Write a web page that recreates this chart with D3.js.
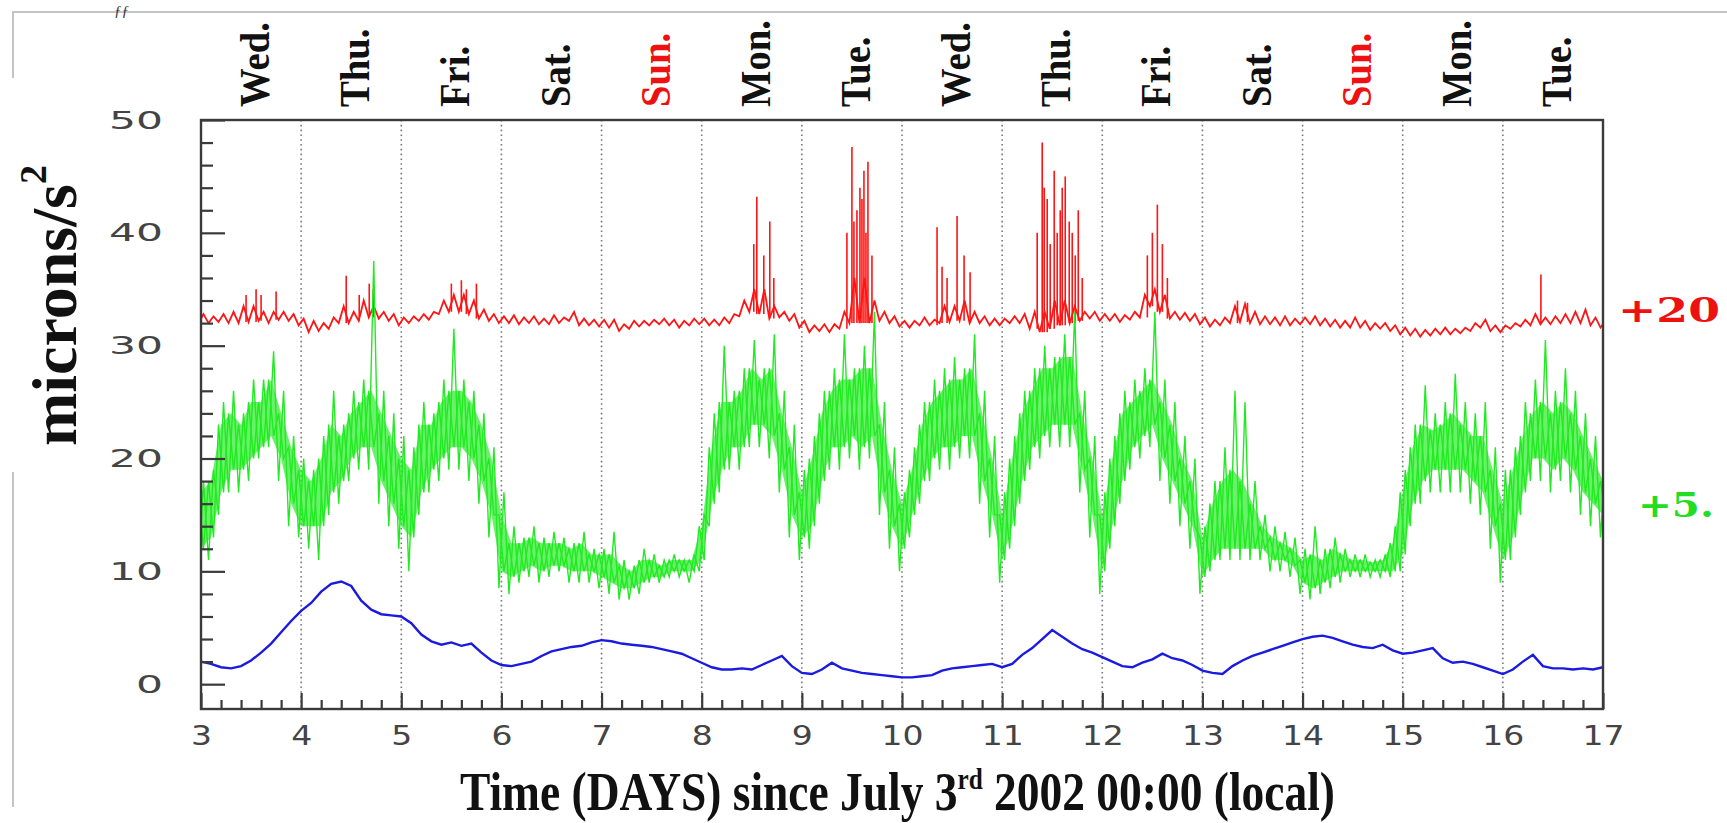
<!DOCTYPE html>
<html><head><meta charset="utf-8">
<script src="https://cdn.jsdelivr.net/npm/d3@7"></script>
<style>body{margin:0;background:#fff;} svg{display:block}</style>
</head><body><svg id="c" width="1727" height="823"></svg>
<script>
// ---------- data ----------
const dayNames = ["Wed.","Thu.","Fri.","Sat.","Sun.","Mon.","Tue.","Wed.","Thu.","Fri.","Sat.","Sun.","Mon.","Tue."];
const xTickLabels = ["3","4","5","6","7","8","9","10","11","12","13","14","15","16","17"];
const yTickValues = [0,10,20,30,40,50];
const offsetLabels = ["+20","+5."];
const binStart = 3, binStep = 0.1;   // samples every 0.1 day from day 3 to day 17

const blueVals = [
 2.0,1.8,1.5,1.4,1.6,2.1,2.8,3.6,4.6,5.6,
 6.5,7.2,8.2,8.9,9.1,8.7,7.4,6.6,6.2,6.1,
 6.0,5.4,4.4,3.8,3.5,3.7,3.4,3.6,2.8,2.1,
 1.7,1.6,1.8,2.0,2.5,2.9,3.1,3.3,3.4,3.7,
 3.9,3.8,3.6,3.5,3.4,3.3,3.1,2.9,2.7,2.3,
 1.9,1.5,1.3,1.3,1.4,1.3,1.7,2.1,2.5,1.6,
 1.0,0.9,1.3,1.9,1.4,1.2,1.0,0.9,0.8,0.7,
 0.6,0.6,0.7,0.8,1.2,1.4,1.5,1.6,1.7,1.8,
 1.5,1.8,2.6,3.2,4.0,4.8,4.2,3.6,3.1,2.8,
 2.4,2.0,1.6,1.5,1.9,2.2,2.7,2.3,2.1,1.7,
 1.2,1.0,0.9,1.6,2.1,2.5,2.8,3.1,3.4,3.7,
 4.0,4.2,4.3,4.1,3.8,3.5,3.3,3.2,3.5,3.0,
 2.7,2.8,3.0,3.2,2.3,1.9,2.0,1.8,1.5,1.2,
 0.9,1.3,2.0,2.6,1.6,1.4,1.4,1.3,1.4,1.3,
 1.5];

// green (+5 offset): extreme low / high of the noisy trace in each bin
const greenLo = [
 10,11,15,17,17,18,20,21,18,14,
 13,12,11,15,16,18,19,19,16,14,
 12,10,15,17,18,19,19,18,16,13,
 8.5,8,9,9.5,9,9.5,10,9,9,9,
 8.5,8,7.5,7.5,8,9,9,9.5,9.5,9,
 10,14,17,19,19,21,21,20,17,13,
 11,12,16,19,19,20,19,20,15,12,
 10,13,16,18,19,19,20,20,16,13,
 9,12,16,19,20,21,21,21,17,13,
 8,12,16,19,20,21,18,16,14,12,
 8,10,11,11,11,11,11,10,10,9.5,
 8,7.5,8,8.5,9,9.5,9.5,9.5,9.5,9.5,
 10,14,16,17,17,17,17,16,15,12,
 9,11,15,18,18,17,18,17,15,14,
 13];
const greenHi = [
 18,19,25,26,24,27,27,29.5,26,22,
 20,19,22,26,23,26,27,37.5,26,24,
 22,21,25,24,27,31.5,27,26,24,21,
 17,14,13,14,13,13.5,13,12.5,13.5,12,
 12,13.5,11,10.5,12,11.5,11,11.5,11,11.5,
 15,24,30,26,28,30.5,28,31,26,23,
 19,22,26,28,31,28,30,33,25,21,
 17,21,25,27,28,29,28,31,26,22,
 17,22,26,28,30,29,31,33,26,22,
 17,22,26,27,28,33,27,25,22,20,
 14,18,21,26,25,18,15,14,13.5,13,
 12,14,12,13,12,11.5,11.5,11,11.5,14,
 19,23,26.5,24,25,27.5,25,24,25,21,
 19,21,25,27,30.5,26,28,26,24,22,
 20];
// green: dense core of the trace in each bin
const greenCoreLo = [
 12,13,17,19,19,20,21,22,20,16,
 14,14,14,17,18,20,21,21,18,16,
 14,13,17,19,20,21,21,20,18,15,
 10,9.5,10,10.5,10,10.5,10.5,10,10,10,
 9.5,9,8.5,8.5,9,9.5,9.5,10,10,10,
 11,16,19,21,21,23,23,22,19,15,
 13,14,18,21,21,22,21,22,17,14,
 12,15,18,20,21,21,22,22,18,15,
 11,14,18,21,22,23,23,23,19,15,
 10,14,18,21,22,23,20,18,16,14,
 9.5,11,12,12,12,12,12,11,11,10.5,
 9,8.5,9,9.5,10,10,10,10,10,10,
 11.5,16,18,19,19,19,19,18,17,14,
 11,13,17,20,20,19,20,19,17,16,
 15];
const greenCoreHi = [
 17,18,23,24,23,25,25,27,24,21,
 19,18,20,23,22,24,25,26,24,22,
 20,19,23,23,25,26,26,25,23,20,
 15,12.5,12.5,13,12.5,12.5,12.5,12,12.5,11.5,
 11.5,11.5,10.5,10,11,11,10.5,11,11,11,
 14,21,25,25,26,28,27,28,24,21,
 17,20,24,26,27,27,28,28,23,19,
 16,19,23,25,26,27,27,28,24,20,
 15,20,24,26,28,28,29,29,24,20,
 15,20,24,25,26,27,25,23,20,18,
 13,16,18,19,18,16,14,13,12.5,12,
 11,11.5,11,12,11.5,11,11,10.8,11,12.5,
 17,21,23,22.5,23,24,23,22,22,19,
 16,19,22,24,25,24,25,24,22,20,
 18];

// red (+20 offset): noisy band low / high in each bin, plus isolated spikes
const redLo = [
 32,32,32.1,32,32,32.1,32.2,32,32.3,32.2,
 31.8,31.2,31.3,31.5,32,32,32.2,32.5,32.4,32.2,
 31.8,32,32.2,32.3,32.8,33,33,32.8,32.4,32.2,
 32,32,31.9,32,31.9,31.9,32,32.2,31.8,31.8,
 31.7,31.6,31.3,31.5,31.7,31.8,31.9,31.8,31.6,31.8,
 31.9,31.8,31.8,32,32.6,33,32.8,32.4,32.5,32.2,
 31.6,31.2,31.3,31.2,31.5,32,32,32,32.2,32,
 31.7,31.6,31.8,31.8,32,32.1,32.2,32,32,31.8,
 31.8,32,32,31.5,31.2,31.5,31.8,32,32.2,32.4,
 32.2,32.2,32.1,32.3,32.5,33.5,33,32.4,32.3,32.2,
 31.9,31.7,31.8,32,32.1,32,31.9,31.9,31.8,31.8,
 31.9,31.9,31.8,31.7,31.6,31.6,31.6,31.4,31.5,31.3,
 31,30.9,30.8,30.9,31,31,31.1,31.3,31.6,31.3,
 31.2,31.5,31.7,31.8,31.9,31.9,32,32,32,31.8,
 31.6];
const redHi = [
 32.8,32.6,32.8,33,33.5,33.5,33,33,33,32.8,
 32.4,32.2,32,32.5,33.5,33,34,33.5,33,32.8,
 32.5,32.6,32.8,33,34,34.5,34.5,34,33.2,32.8,
 32.6,32.7,32.5,32.6,32.4,32.7,32.5,33,32.4,32.3,
 32.3,32.3,31.9,32.2,32.2,32.3,32.4,32.3,32.2,32.4,
 32.4,32.3,32.5,32.8,34,35,35,33.5,33,32.8,
 32.2,31.8,31.9,31.9,33,36,36,34,33,32.6,
 32.2,32.2,32.5,32.3,33.5,33.5,34,33,32.6,32.4,
 32.4,32.6,32.8,33,33,34,34,33.5,33,33,
 32.8,32.8,32.7,33,34.5,35,34.5,33,32.9,32.8,
 32.5,32.3,32.5,33.5,33.7,33,32.6,32.5,32.6,32.4,
 32.5,32.6,32.4,32.3,32.2,32.5,32.2,32,32,31.8,
 31.6,31.5,31.4,31.5,31.6,31.5,31.6,32,32.3,31.8,
 31.8,32,32.3,32.8,32.5,32.6,32.8,33,33.2,32.5,
 32.2];

const redSpikeDays = [3.45,3.55,3.6,3.75, 4.45,4.58,4.68,4.72, 5.5,5.6,5.65,5.75,
 8.52,8.55,8.62,8.68,8.72, 9.45,9.5,9.52,9.55,9.58,9.6,9.62,9.64,9.66,9.7,
 10.35,10.4,10.45,10.55,10.62,10.68,
 11.35,11.4,11.42,11.45,11.48,11.52,11.55,11.58,11.6,11.63,11.67,11.7,11.73,11.76,11.8,
 12.45,12.5,12.55,12.6,12.65, 13.35,13.45, 16.38];
const redSpikeTops = [34.5,35,34.5,34.8, 36.2,34.5,35.5,35, 35.5,35.8,35,35.5,
 39,43.2,38,41,36, 40,47.6,41,42,44,43,45.5,40,46.3,38,
 40.5,37,36,41.5,38,36.5,
 40,48,44,43,39,45.5,40,42,44,45,41,40,38,42,36,
 38,40,42.5,39,36, 34,33.8, 36.3];

// ---------- layout ----------
const svg = d3.select("#c");
const x = d3.scaleLinear().domain([3,17]).range([201,1603]);
const y = d3.scaleLinear().domain([-2.2,50]).range([709,120]);
const serif = "'Liberation Serif','Times New Roman',serif";
const sans = "'DejaVu Sans',Verdana,sans-serif";

svg.append("rect").attr("width",1727).attr("height",823).attr("fill","#fff");

// outer faint frame
const frame = svg.append("g").attr("stroke","#c4c4c4").attr("stroke-width",2).attr("fill","none");
frame.append("path").attr("d","M13,78V12H1727");
frame.append("path").attr("d","M13,472V807");
svg.append("text").attr("x",114).attr("y",16).attr("font-family",serif).attr("font-style","italic")
  .attr("font-size",15).attr("fill","#333").text("ƒƒ");

// clip
svg.append("clipPath").attr("id","clip").append("rect")
  .attr("x",x(3)).attr("y",y(50)).attr("width",x(17)-x(3)).attr("height",y(-2.2)-y(50));

// day grid dotted lines
const gridDays = xTickLabels.map(Number).filter(d=>d>3 && d<17);
svg.append("g").selectAll("line").data(gridDays).join("line")
  .attr("x1",d=>x(d)).attr("x2",d=>x(d)).attr("y1",y(50)).attr("y2",y(-2.2))
  .attr("stroke","#7a7a7a").attr("stroke-width",1.6).attr("stroke-dasharray","1.6,3.2");

// series
const tOf = i => binStart + i*binStep;
const plot = svg.append("g").attr("clip-path","url(#clip)");
const line = d3.line().x(d=>x(d[0])).y(d=>y(d[1]));
const band = (lo,hi) => d3.area().x((d,i)=>x(tOf(i))).y0((d,i)=>y(lo[i])).y1((d,i)=>y(hi[i]))(lo);
function zig(lo, hi){
  const pts = [];
  lo.forEach((v,i)=>{ pts.push([tOf(i)-binStep/4, v]); pts.push([tOf(i)+binStep/4, hi[i]]); });
  return pts;
}

const RED = "#ff1414", GREEN = "#22ea22", BLUE = "#1a1ae0";
// red noisy trace + spikes
plot.append("path").attr("d", line(zig(redLo, redHi))).attr("fill","none")
  .attr("stroke",RED).attr("stroke-width",1.8);
plot.append("g").selectAll("path").data(redSpikeDays).join("path")
  .attr("d",(d,i)=>{ const k = Math.round((d-binStart)/binStep);
     return line([[d, redLo[k]],[d, redSpikeTops[i]]]); })
  .attr("fill","none").attr("stroke",RED).attr("stroke-width",1.6);
// green: dense core, extremes zigzag, core zigzag
plot.append("path").attr("d", band(greenCoreLo, greenCoreHi)).attr("fill",GREEN).attr("fill-opacity",0.68);
plot.append("path").attr("d", line(zig(greenLo, greenHi))).attr("fill","none")
  .attr("stroke",GREEN).attr("stroke-width",1.4);
plot.append("path").attr("d", line(zig(greenCoreHi, greenCoreLo))).attr("fill","none")
  .attr("stroke",GREEN).attr("stroke-width",1.4);
// blue
plot.append("path").attr("d", line(blueVals.map((v,i)=>[tOf(i), v]))).attr("fill","none")
  .attr("stroke",BLUE).attr("stroke-width",2.4);

// axes
const axCol = "#3a3a3a";
const xMajor = xTickLabels.map(Number);
const xMinor = d3.range(70).map(i=>3+i*0.2).filter(v=>v<17 && Math.abs(v-Math.round(v))>1e-6);
const yMinor = d3.range(26).map(i=>i*2).filter(v=>v%10!==0);

const gx = svg.append("g").attr("transform",`translate(0,${y(-2.2)})`)
  .call(d3.axisBottom(x).tickValues(xMajor).tickSizeInner(-16).tickSizeOuter(0).tickPadding(18).tickFormat((d,i)=>xTickLabels[i]));
const gx2 = svg.append("g").attr("transform",`translate(0,${y(-2.2)})`)
  .call(d3.axisBottom(x).tickValues(xMinor).tickSizeInner(-9).tickSizeOuter(0).tickFormat(""));
const gy = svg.append("g").attr("transform",`translate(${x(3)},0)`)
  .call(d3.axisLeft(y).tickValues(yTickValues).tickSizeInner(-24).tickSizeOuter(0).tickPadding(38));
const gy2 = svg.append("g").attr("transform",`translate(${x(3)},0)`)
  .call(d3.axisLeft(y).tickValues(yMinor).tickSizeInner(-12).tickSizeOuter(0).tickFormat(""));
[gx,gx2,gy,gy2].forEach(g=>{ g.select(".domain").remove();
  g.selectAll("line").attr("stroke",axCol).attr("stroke-width",2.2); });
gx.selectAll("text").attr("font-family",sans).attr("font-size",26).attr("fill","#444")
  .each(function(){ d3.select(this).attr("textLength", this.textContent.length*21).attr("lengthAdjust","spacingAndGlyphs"); });
gy.selectAll("text").attr("font-family",sans).attr("font-size",25).attr("fill","#444")
  .each(function(){ d3.select(this).attr("textLength", this.textContent.length*27).attr("lengthAdjust","spacingAndGlyphs"); });

// frame
svg.append("rect").attr("x",x(3)).attr("y",y(50)).attr("width",x(17)-x(3)).attr("height",y(-2.2)-y(50))
  .attr("fill","none").attr("stroke",axCol).attr("stroke-width",2.4);

// day labels
svg.append("g").selectAll("text").data(dayNames).join("text")
  .attr("transform",(d,i)=>`translate(${x(3+i+0.5)+18},107) rotate(-90)`)
  .attr("font-family",serif).attr("font-weight","bold").attr("font-size",42)
  .attr("fill",d=>d==="Sun."?"#ee1111":"#111").text(d=>d)
  .each(function(){ d3.select(this).attr("textLength", this.getComputedTextLength()*0.92).attr("lengthAdjust","spacingAndGlyphs"); });

// y label
const yl = svg.append("text").attr("transform","translate(76,446) rotate(-90)")
  .attr("font-family",serif).attr("font-weight","bold").attr("font-size",64).attr("fill","#111");
yl.append("tspan").text("microns/s");
yl.append("tspan").attr("font-size",38).attr("dy",-30).text("2");

// x title (condensed to the reference width)
const xt = svg.append("text").attr("x",0).attr("y",0)
  .attr("font-family",serif).attr("font-weight","bold").attr("font-size",54).attr("fill","#111");
xt.append("tspan").text("Time (DAYS) since July 3");
xt.append("tspan").attr("font-size",30).attr("dy",-21).text("rd");
xt.append("tspan").attr("dy",21).text(" 2002 00:00 (local)");
const tw = xt.node().getBBox().width;
xt.attr("transform",`translate(460,810) scale(${875/tw},1)`);

// offset labels
const offX = [1618, 1638], offY = [322, 517], offW = [102, 76], offC = ["#ee1111","#22dd22"];
svg.append("g").selectAll("text").data(offsetLabels).join("text")
  .attr("x",(d,i)=>offX[i]).attr("y",(d,i)=>offY[i]).attr("font-family","'DejaVu Serif',serif").attr("font-weight","bold")
  .attr("font-size",34).attr("fill",(d,i)=>offC[i]).attr("textLength",(d,i)=>offW[i]).attr("lengthAdjust","spacingAndGlyphs")
  .text(d=>d);
</script></body></html>
